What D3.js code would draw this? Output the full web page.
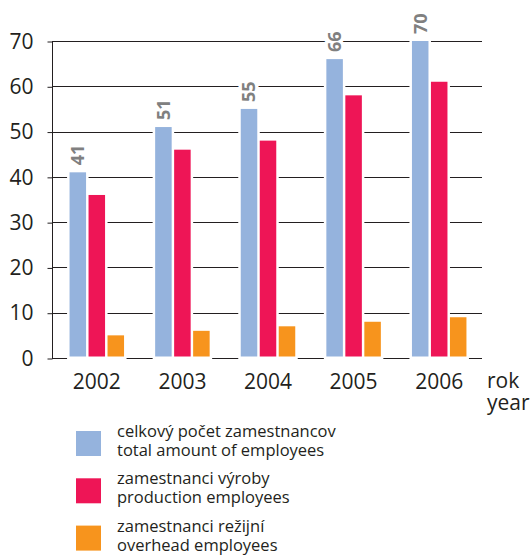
<!DOCTYPE html>
<html>
<head>
<meta charset="utf-8">
<script src="https://cdn.jsdelivr.net/npm/d3@7"></script>
<style>
  body { margin: 0; background: #fff; }
  svg { display: block; font-family: "Open Sans", sans-serif; }
</style>
</head>
<body>
<div id="chart"></div>
<script>
// data
const years = ["2002", "2003", "2004", "2005", "2006"];
const total = [41, 51, 55, 66, 70];
const production = [36, 46, 48, 58, 61];
const overhead = [5, 6, 7, 8, 9];
const yTicks = [0, 10, 20, 30, 40, 50, 60, 70];
const seriesKeys = ["total", "production", "overhead"];
const legendLines = [
    ["celkový počet zamestnancov", "total amount of employees"],
    ["zamestnanci výroby", "production employees"],
    ["zamestnanci režijní", "overhead employees"]
];

const W = 532, H = 559;
const ink = "#231f20";

const color = d3.scaleOrdinal()
    .domain(seriesKeys)
    .range(["#95b3dd", "#ee1556", "#f7941d"]);

const rows = years.map((y, i) => ({
    year: y,
    values: [
        {key: "total", value: total[i]},
        {key: "production", value: production[i]},
        {key: "overhead", value: overhead[i]}
    ]
}));

const svg = d3.select("#chart").append("svg")
    .attr("width", W)
    .attr("height", H);

// scales
const x0 = d3.scaleBand().domain(years).range([54, 482]).padding(0);
const groupW = 54.5;
const x1 = d3.scaleBand().domain(seriesKeys).range([0, groupW]).paddingInner(0.13);
const groupOffset = (x0.bandwidth() - groupW) / 2;
const y = d3.scaleLinear().domain([0, 70]).range([358, 41]);

// grid lines
svg.append("g")
    .selectAll("line")
    .data(yTicks)
    .join("line")
    .attr("x1", 52)
    .attr("x2", 482)
    .attr("y1", d => Math.round(y(d)) + 0.5)
    .attr("y2", d => Math.round(y(d)) + 0.5)
    .attr("stroke", ink)
    .attr("stroke-width", 1);

// y axis
const yAxis = svg.append("g")
    .attr("transform", "translate(52.5,0.5)")
    .call(d3.axisLeft(y).tickValues(yTicks).tickSize(5).tickPadding(14));
yAxis.select(".domain").attr("stroke", ink).attr("d", "M0," + Math.round(y(70)) + "V" + Math.round(y(0)));
yAxis.selectAll(".tick line").attr("stroke", ink);
yAxis.selectAll(".tick text")
    .attr("fill", ink)
    .style("font-size", "21px")
    .style("font-family", "'Open Sans', sans-serif");

// groups
const groups = svg.append("g")
    .selectAll("g")
    .data(rows)
    .join("g")
    .attr("transform", d => "translate(" + (x0(d.year) + groupOffset) + ",0)");

// white knockouts behind bars
groups.selectAll("rect.halo")
    .data(d => d.values)
    .join("rect")
    .attr("class", "halo")
    .attr("x", d => x1(d.key) - 2.5)
    .attr("width", x1.bandwidth() + 5)
    .attr("y", d => y(d.value) - 2.5)
    .attr("height", d => y(0) - y(d.value) + 5)
    .attr("fill", "#fff");

// bars
groups.selectAll("rect.bar")
    .data(d => d.values)
    .join("rect")
    .attr("class", "bar")
    .attr("x", d => x1(d.key))
    .attr("width", x1.bandwidth())
    .attr("y", d => y(d.value))
    .attr("height", d => y(0) - y(d.value) - 1.5)
    .attr("fill", d => color(d.key));

// value labels on total bars (rotated)
groups.append("text")
    .attr("transform", d => {
        let cx = x1("total") + x1.bandwidth() / 2;
        return "translate(" + cx + "," + (y(d.values[0].value) - 7) + ") rotate(-90)";
    })
    .attr("dy", "0.36em")
    .attr("text-anchor", "start")
    .attr("fill", "#808080")
    .attr("stroke", "#fff")
    .attr("stroke-width", 7)
    .attr("paint-order", "stroke")
    .style("font-size", "18px")
    .style("font-weight", "bold")
    .text(d => d.values[0].value);

// x axis labels
const xAxis = svg.append("g")
    .attr("transform", "translate(0,358)")
    .call(d3.axisBottom(x0).tickSize(0).tickPadding(0));
xAxis.select(".domain").remove();
xAxis.selectAll(".tick text")
    .attr("y", 31)
    .attr("dy", 0)
    .attr("fill", ink)
    .style("font-size", "21px")
    .style("font-family", "'Open Sans', sans-serif");

// axis title
svg.append("text")
    .attr("x", 487)
    .attr("y", 388)
    .attr("fill", ink)
    .style("font-size", "21px")
    .text("rok");
svg.append("text")
    .attr("x", 487)
    .attr("y", 410)
    .attr("fill", ink)
    .style("font-size", "21px")
    .text("year");

// legend
const legend = svg.append("g")
    .selectAll("g")
    .data(seriesKeys)
    .join("g")
    .attr("transform", (d, i) => "translate(76," + (431 + i * 47.3) + ")");

legend.append("rect")
    .attr("width", 25)
    .attr("height", 25)
    .attr("fill", d => color(d));

legend.each(function(d, i) {
    let g = d3.select(this);
    legendLines[i].forEach((line, j) => {
        g.append("text")
            .attr("x", 41)
            .attr("y", 6 + j * 19)
            .attr("fill", ink)
            .style("font-size", "16.5px")
            .text(line);
    });
});
</script>
</body>
</html>
